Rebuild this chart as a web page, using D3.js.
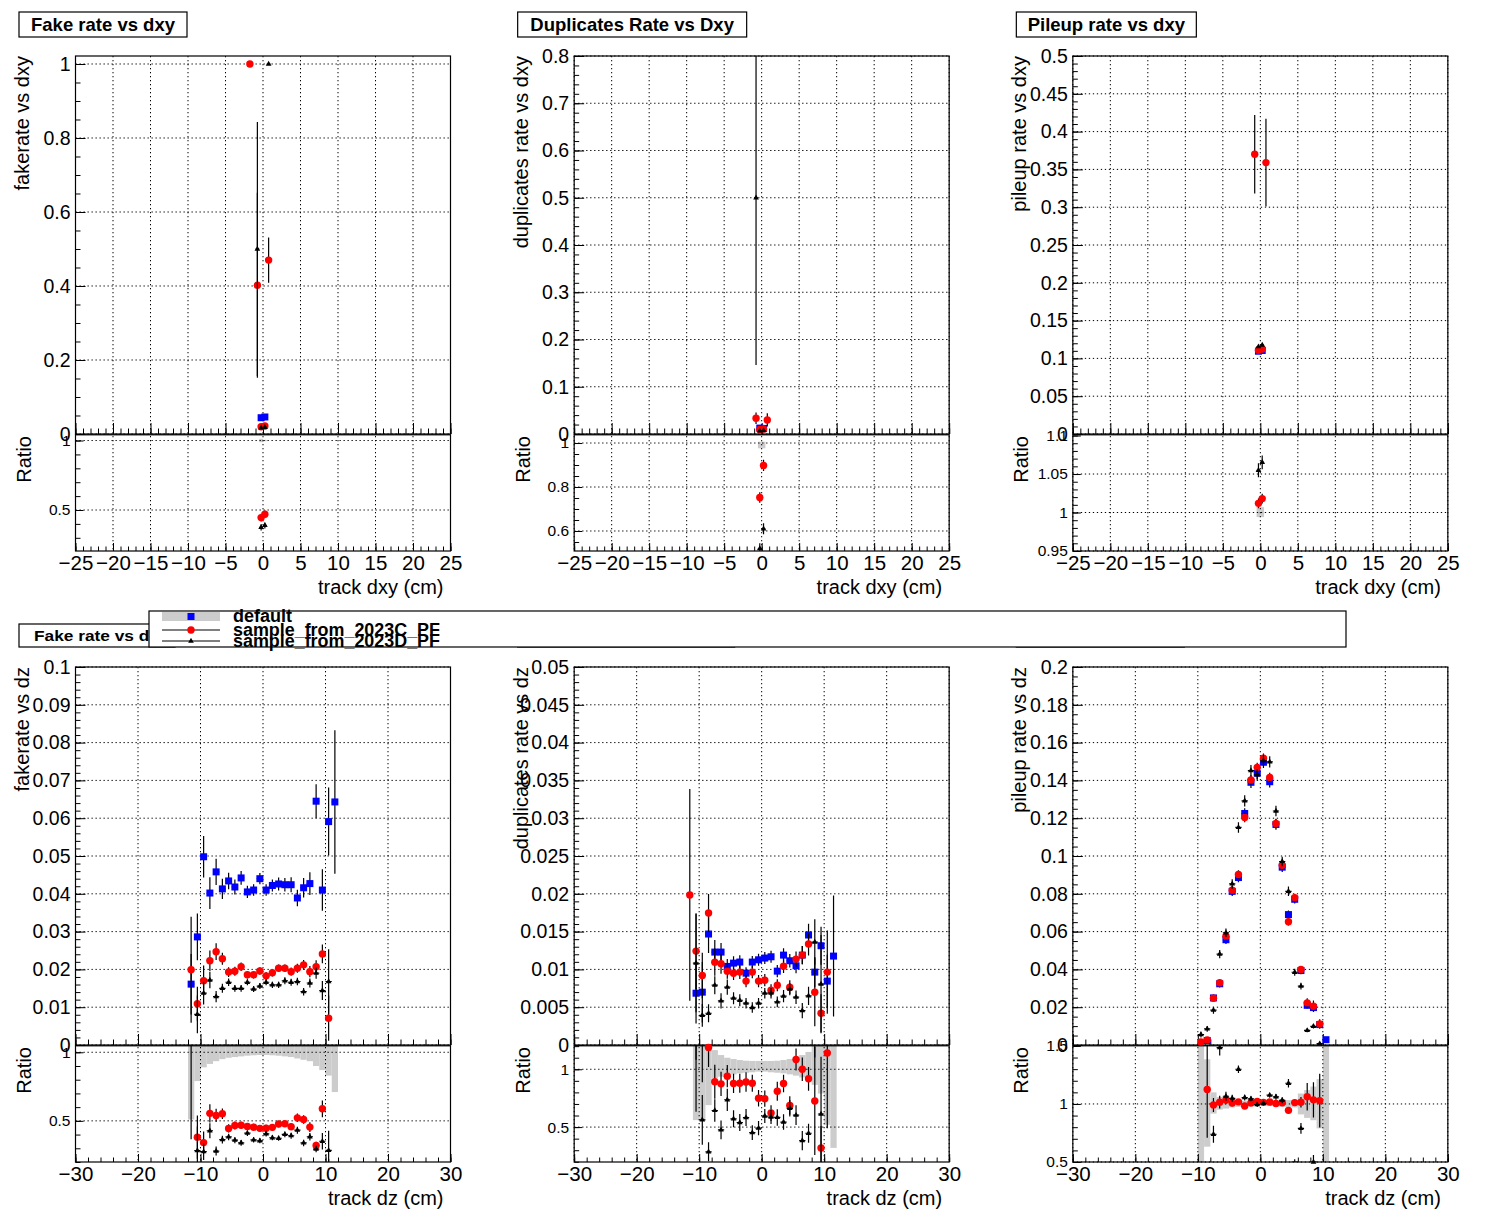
<!DOCTYPE html>
<html>
<head>
<meta charset="utf-8">
<script src="https://cdn.jsdelivr.net/npm/d3@7"></script>
<style>
body { margin: 0; background: #fff; }
svg { display: block; }
</style>
</head>
<body>
<script>
'use strict';

// ---- data ----
var seriesNames = ["default", "sample_from_2023C_PF", "sample_from_2023D_PF"];

var dxyBins = [-1.75, -0.75, -0.25, 0.25, 0.75];
var dzBins = [-11.5, -10.5, -9.5, -8.5, -7.5, -6.5, -5.5, -4.5, -3.5, -2.5, -1.5, -0.5,
              0.5, 1.5, 2.5, 3.5, 4.5, 5.5, 6.5, 7.5, 8.5, 9.5, 10.5, 11.5];

var dxyXTicks = [-25, -20, -15, -10, -5, 0, 5, 10, 15, 20, 25];
var dzXTicks = [-30, -20, -10, 0, 10, 20, 30];

var fakeDxyYTicks = [0, 0.2, 0.4, 0.6, 0.8, 1];
var dupDxyYTicks = [0, 0.1, 0.2, 0.3, 0.4, 0.5, 0.6, 0.7, 0.8];
var puDxyYTicks = [0, 0.05, 0.1, 0.15, 0.2, 0.25, 0.3, 0.35, 0.4, 0.45, 0.5];
var fakeDzYTicks = [0, 0.01, 0.02, 0.03, 0.04, 0.05, 0.06, 0.07, 0.08, 0.09, 0.1];
var dupDzYTicks = [0, 0.005, 0.01, 0.015, 0.02, 0.025, 0.03, 0.035, 0.04, 0.045, 0.05];
var puDzYTicks = [0, 0.02, 0.04, 0.06, 0.08, 0.1, 0.12, 0.14, 0.16, 0.18, 0.2];

var fakeDxyRTicks = [0.5, 1];
var dupDxyRTicks = [0.6, 0.8, 1];
var puDxyRTicks = [0.95, 1, 1.05, 1.1];
var fakeDzRTicks = [0.5, 1];
var dupDzRTicks = [0.5, 1];
var puDzRTicks = [0.5, 1, 1.5];

// fake rate vs dxy
var fakeDxyDefault = [null, null, 0.044, 0.046, null];
var fakeDxyDefaultErr = [0, 0, 0.0015, 0.0015, 0];
var fakeDxyC = [1.0, 0.402, 0.0196, 0.0216, 0.47];
var fakeDxyCErr = [0, 0.25, 0.0012, 0.0012, 0.061];
var fakeDxyD = [null, 0.5, 0.0165, 0.0179, 1.0];
var fakeDxyDErr = [0, 0.343, 0.001, 0.001, 0];
var fakeDxyBandLo = [null, null, 0.012, 0.005, null];
var fakeDxyBandHi = [null, null, 0.012, 0.005, null];

// duplicates rate vs dxy
var dupDxyDefault = [null, null, 0.0125, 0.0118, null];
var dupDxyDefaultErr = [0, 0, 0.0003, 0.0003, 0];
var dupDxyC = [null, 0.0333, 0.0094, 0.0106, 0.0297];
var dupDxyCErr = [0, 0.012, 0.0003, 0.0003, 0.014];
var dupDxyD = [null, 0.5, 0.0065, 0.0072, null];
var dupDxyDErr = [0, 0.354, 0.0003, 0.0003, 0];
var dupDxyBandLo = [null, null, 0.024, 0.024, null];
var dupDxyBandHi = [null, null, 0.006, 0.006, null];

// pileup rate vs dxy
var puDxyDefault = [null, null, 0.1095, 0.1105, null];
var puDxyDefaultErr = [0, 0, 0.0006, 0.0006, 0];
var puDxyC = [null, 0.370, 0.1108, 0.1125, 0.359];
var puDxyCErr = [0, 0.052, 0.0007, 0.0007, 0.058];
var puDxyD = [null, null, 0.1155, 0.1177, null];
var puDxyDErr = [0, 0, 0.001, 0.001, 0];
var puDxyBandLo = [null, null, 0.006, 0.006, null];
var puDxyBandHi = [null, null, 0.007, 0.007, null];

// fake rate vs dz
var fakeDzDefault = [0.0161, 0.0286, 0.0498, 0.0402, 0.0458, 0.0413, 0.0434, 0.0418, 0.0442, 0.0405, 0.0410, 0.0440,
                     0.0410, 0.0422, 0.0426, 0.0424, 0.0424, 0.0389, 0.0416, 0.0427, 0.0645, 0.0410, 0.0591, 0.0643];
var fakeDzDefaultErr = [0.008, 0.0062, 0.0055, 0.0042, 0.0035, 0.0027, 0.0022, 0.002, 0.0018, 0.0016, 0.0015, 0.0015,
                        0.0015, 0.0016, 0.0017, 0.0018, 0.002, 0.0022, 0.0026, 0.003, 0.0045, 0.0055, 0.009, 0.019];
var fakeDzC = [0.0199, 0.0109, 0.0170, 0.0223, 0.0247, 0.0228, 0.0193, 0.0195, 0.0207, 0.0186, 0.0186, 0.0196,
               0.0183, 0.0191, 0.0203, 0.0203, 0.0194, 0.0203, 0.0212, 0.0194, 0.0207, 0.0241, 0.0071, null];
var fakeDzCErr = [0.014, 0.0045, 0.004, 0.0027, 0.0022, 0.0016, 0.0013, 0.0012, 0.0011, 0.001, 0.001, 0.001,
                  0.001, 0.001, 0.001, 0.001, 0.0011, 0.0012, 0.0013, 0.0015, 0.0017, 0.0025, 0.006, 0];
var fakeDzD = [null, 0.0081, 0.0137, 0.0172, 0.0128, 0.0150, 0.0166, 0.0150, 0.0150, 0.0166, 0.0148, 0.0156,
               0.0166, 0.0159, 0.0159, 0.0170, 0.0166, 0.0168, 0.0141, 0.0164, 0.0190, 0.0144, 0.0168, null];
var fakeDzDErr = [0, 0.005, 0.003, 0.0022, 0.0015, 0.0012, 0.001, 0.0009, 0.0009, 0.0008, 0.0008, 0.0008,
                  0.0008, 0.0008, 0.0008, 0.0009, 0.0009, 0.001, 0.001, 0.0012, 0.0015, 0.0025, 0.0085, 0];
var fakeDzBandLo = [0.49, 0.21, 0.11, 0.085, 0.065, 0.05, 0.04, 0.035, 0.03, 0.025, 0.022, 0.02,
                    0.02, 0.022, 0.025, 0.03, 0.035, 0.045, 0.055, 0.065, 0.1, 0.13, 0.17, 0.29];
var fakeDzBandHi = [0.1, 0.1, 0.1, 0.1, 0.1, 0.1, 0.1, 0.1, 0.1, 0.1, 0.1, 0.1,
                    0.1, 0.1, 0.1, 0.1, 0.1, 0.1, 0.1, 0.1, 0.1, 0.1, 0.1, 0.1];

// duplicates rate vs dz
var dupDzDefault = [null, 0.00685, 0.00699, 0.01468, 0.01229, 0.01229, 0.01039, 0.01083, 0.01097, 0.0095, 0.01097, 0.01127,
                    0.0115, 0.01167, 0.00977, 0.01189, 0.01114, 0.01048, 0.01189, 0.01455, 0.00964, 0.01313, 0.00845, 0.01176];
var dupDzDefaultErr = [0, 0.004, 0.004, 0.0025, 0.0016, 0.0012, 0.001, 0.0009, 0.0009, 0.0008, 0.0008, 0.0008,
                       0.0008, 0.0008, 0.0008, 0.0009, 0.0009, 0.001, 0.0012, 0.0015, 0.002, 0.0025, 0.0035, 0.008];
var dupDzC = [0.01985, 0.01242, 0.0092, 0.01746, 0.01096, 0.01074, 0.00977, 0.0095, 0.00964, 0.00845, 0.00964, 0.00845,
              0.00858, 0.00725, 0.00791, 0.01043, 0.00765, 0.01136, 0.01189, 0.01335, 0.00699, 0.0042, 0.00964, null];
var dupDzCErr = [0.014, 0.005, 0.003, 0.0025, 0.0018, 0.0013, 0.001, 0.0009, 0.0009, 0.0008, 0.0008, 0.0008,
                 0.0008, 0.0008, 0.0008, 0.0009, 0.0009, 0.001, 0.0012, 0.0015, 0.0045, 0.0025, 0.0055, 0];
var dupDzD = [null, 0.01083, 0.00393, 0.0042, 0.00791, 0.00584, 0.00765, 0.00619, 0.00592, 0.00553, 0.00495, 0.00553,
              0.00685, 0.00685, 0.0057, 0.00646, 0.00738, 0.00632, 0.00455, 0.0065, 0.01362, 0.00805, null, null];
var dupDzDErr = [0, 0.0065, 0.0015, 0.0012, 0.0012, 0.001, 0.001, 0.0008, 0.0008, 0.0007, 0.0007, 0.0007,
                 0.0007, 0.0007, 0.0007, 0.0008, 0.0008, 0.0009, 0.001, 0.0012, 0.003, 0.0065, 0, 0];
var dupDzBandLo = [null, 0.44, 0.44, 0.31, 0.078, 0.064, 0.05, 0.044, 0.035, 0.03, 0.026, 0.02,
                   0.02, 0.026, 0.03, 0.035, 0.044, 0.055, 0.07, 0.078, 0.135, 0.21, 0.48, 0.68];
var dupDzBandHi = [null, 0.3, 0.3, 0.3, 0.166, 0.123, 0.1, 0.089, 0.08, 0.074, 0.072, 0.072,
                   0.072, 0.072, 0.074, 0.08, 0.089, 0.1, 0.123, 0.15, 0.3, 0.3, 0.3, 0.3];

// pileup rate vs dz
var puDzDefault = [null, null, null, 0.0024, 0.0249, 0.0324, 0.0557, 0.0813, 0.0886, 0.1225, 0.139, 0.1438,
                   0.1496, 0.1393, 0.1167, 0.0941, 0.069, 0.0771, 0.0394, 0.021, 0.0198, 0.0108, 0.0028, null];
var puDzDefaultErr = [0, 0, 0, 0.001, 0.0018, 0.002, 0.0022, 0.0025, 0.0025, 0.0028, 0.003, 0.003,
                      0.003, 0.003, 0.0028, 0.0025, 0.0022, 0.0022, 0.002, 0.0017, 0.0017, 0.0012, 0.001, 0];
var puDzC = [null, null, 0.0016, 0.0027, 0.0247, 0.0329, 0.0576, 0.0819, 0.0902, 0.1204, 0.1402, 0.1469,
             0.1517, 0.1416, 0.1172, 0.0951, 0.0652, 0.078, 0.04, 0.0223, 0.0205, 0.0111, null, null];
var puDzCErr = [0, 0, 0.0008, 0.001, 0.0015, 0.0018, 0.002, 0.0022, 0.0022, 0.0025, 0.0025, 0.0025,
                0.0025, 0.0025, 0.0025, 0.0022, 0.002, 0.002, 0.0018, 0.0025, 0.003, 0.0025, 0, 0];
var puDzD = [null, null, 0.0055, 0.0085, 0.0184, 0.0481, 0.0594, 0.0852, 0.1151, 0.1292, 0.1452, 0.1429,
             0.1505, 0.1498, 0.1238, 0.0971, 0.0813, 0.0385, 0.0311, 0.0077, 0.0099, 0.0007, null, null];
var puDzDErr = [0, 0, 0.0015, 0.0015, 0.0018, 0.0022, 0.0022, 0.0025, 0.0028, 0.003, 0.003, 0.003,
                0.003, 0.003, 0.0028, 0.0025, 0.0025, 0.0018, 0.0018, 0.001, 0.0012, 0.0008, 0, 0];
var puDzBandLo = [null, null, 0.6, 0.368, 0.083, 0.049, 0.04, 0.03, 0.025, 0.02, 0.018, 0.015,
                  0.015, 0.018, 0.02, 0.025, 0.028, 0.03, 0.09, 0.12, 0.14, 0.21, 0.6, null];
var puDzBandHi = [null, null, 0.6, 0.385, 0.1, 0.06, 0.045, 0.035, 0.03, 0.028, 0.028, 0.028,
                  0.028, 0.028, 0.028, 0.03, 0.033, 0.035, 0.09, 0.12, 0.15, 0.214, 0.6, null];

// ---- drawing ----
var W = 1496, H = 1222;
var FONT = '"Liberation Sans", Arial, Helvetica, sans-serif';
var fmt = d3.format("~g");

var svg = d3.select("body").append("svg")
  .attr("width", W).attr("height", H)
  .attr("font-family", FONT);
svg.append("rect").attr("width", W).attr("height", H).attr("fill", "#fff");

var panels = [
  { col: 0, row: 0, title: "Fake rate vs dxy", boxW: 168, titleLen: null, ytitle: "fakerate vs dxy", xtitle: "track dxy (cm)",
    bins: dxyBins, binW: 0.5, xDomain: [-25, 25], xTicks: dxyXTicks, xMinor: 50,
    yMax: 1.0216, yTicks: fakeDxyYTicks, yMinor: 20, rDomain: [0.205, 1.047], rTicks: fakeDxyRTicks, rMinor: 10,
    def: fakeDxyDefault, defErr: fakeDxyDefaultErr, c: fakeDxyC, cErr: fakeDxyCErr, d: fakeDxyD, dErr: fakeDxyDErr,
    bandLo: fakeDxyBandLo, bandHi: fakeDxyBandHi },
  { col: 1, row: 0, title: "Duplicates Rate vs Dxy", boxW: 229, titleLen: null, ytitle: "duplicates rate vs dxy", xtitle: "track dxy (cm)",
    bins: dxyBins, binW: 0.5, xDomain: [-25, 25], xTicks: dxyXTicks, xMinor: 50,
    yMax: 0.8, yTicks: dupDxyYTicks, yMinor: 40, rDomain: [0.509, 1.041], rTicks: dupDxyRTicks, rMinor: 10,
    def: dupDxyDefault, defErr: dupDxyDefaultErr, c: dupDxyC, cErr: dupDxyCErr, d: dupDxyD, dErr: dupDxyDErr,
    bandLo: dupDxyBandLo, bandHi: dupDxyBandHi },
  { col: 2, row: 0, title: "Pileup rate vs dxy", boxW: 180, titleLen: null, ytitle: "pileup rate vs dxy", xtitle: "track dxy (cm)",
    bins: dxyBins, binW: 0.5, xDomain: [-25, 25], xTicks: dxyXTicks, xMinor: 50,
    yMax: 0.5, yTicks: puDxyYTicks, yMinor: 50, rDomain: [0.95, 1.102], rTicks: puDxyRTicks, rMinor: 15,
    def: puDxyDefault, defErr: puDxyDefaultErr, c: puDxyC, cErr: puDxyCErr, d: puDxyD, dErr: puDxyDErr,
    bandLo: puDxyBandLo, bandHi: puDxyBandHi },
  { col: 0, row: 1, title: "Fake rate vs dz", boxW: 156, titleLen: 124, ytitle: "fakerate vs dz", xtitle: "track dz (cm)",
    bins: dzBins, binW: 1, xDomain: [-30, 30], xTicks: dzXTicks, xMinor: 30,
    yMax: 0.1, yTicks: fakeDzYTicks, yMinor: 50, rDomain: [0.2, 1.053], rTicks: fakeDzRTicks, rMinor: 10,
    def: fakeDzDefault, defErr: fakeDzDefaultErr, c: fakeDzC, cErr: fakeDzCErr, d: fakeDzD, dErr: fakeDzDErr,
    bandLo: fakeDzBandLo, bandHi: fakeDzBandHi },
  { col: 1, row: 1, title: "Duplicates Rate vs Dz", boxW: 217, titleLen: 185, ytitle: "duplicates rate vs dz", xtitle: "track dz (cm)",
    bins: dzBins, binW: 1, xDomain: [-30, 30], xTicks: dzXTicks, xMinor: 30,
    yMax: 0.05, yTicks: dupDzYTicks, yMinor: 50, rDomain: [0.198, 1.21], rTicks: dupDzRTicks, rMinor: 10,
    def: dupDzDefault, defErr: dupDzDefaultErr, c: dupDzC, cErr: dupDzCErr, d: dupDzD, dErr: dupDzDErr,
    bandLo: dupDzBandLo, bandHi: dupDzBandHi },
  { col: 2, row: 1, title: "Pileup rate vs dz", boxW: 168, titleLen: 138, ytitle: "pileup rate vs dz", xtitle: "track dz (cm)",
    bins: dzBins, binW: 1, xDomain: [-30, 30], xTicks: dzXTicks, xMinor: 30,
    yMax: 0.2, yTicks: puDzYTicks, yMinor: 40, rDomain: [0.5, 1.508], rTicks: puDzRTicks, rMinor: 10,
    def: puDzDefault, defErr: puDzDefaultErr, c: puDzC, cErr: puDzCErr, d: puDzD, dErr: puDzDErr,
    bandLo: puDzBandLo, bandHi: puDzBandHi }
];

function styleAxis(sel, size) {
  sel.select(".domain").remove();
  sel.attr("font-family", FONT).attr("font-size", size);
  sel.selectAll("text").attr("fill", "#000");
  sel.selectAll("line").attr("stroke", "#000");
}

function drawMarker(sel, kind) {
  if (kind === "square") {
    sel.append("rect").attr("x", -3.5).attr("y", -3.5).attr("width", 7).attr("height", 7).attr("fill", "#0000ff");
  } else if (kind === "circle") {
    sel.append("circle").attr("r", 3.7).attr("fill", "#ff0000");
  } else {
    sel.append("path").attr("d", d3.symbol().type(d3.symbolTriangle).size(14)()).attr("fill", "#000");
  }
}

function drawSeries(g, pts, x, ys, kind, binW, clipId, dom) {
  var eg = g.append("g").attr("clip-path", "url(#" + clipId + ")");
  eg.selectAll("line.v").data(pts.filter(function(d){ return d.e > 0; })).join("line")
    .attr("class", "v")
    .attr("x1", function(d){ return x(d.c); }).attr("x2", function(d){ return x(d.c); })
    .attr("y1", function(d){ return ys(d.v - d.e); }).attr("y2", function(d){ return ys(d.v + d.e); })
    .attr("stroke", "#000").attr("stroke-width", 1.2);
  eg.selectAll("line.h").data(pts).join("line")
    .attr("class", "h")
    .attr("x1", function(d){ return x(d.c - binW / 2); }).attr("x2", function(d){ return x(d.c + binW / 2); })
    .attr("y1", function(d){ return ys(d.v); }).attr("y2", function(d){ return ys(d.v); })
    .attr("stroke", "#000").attr("stroke-width", 1.2);
  var inside = pts.filter(function(d){ return d.v >= dom[0] && d.v <= dom[1]; });
  g.append("g").selectAll("g").data(inside).join("g")
    .attr("transform", function(d){ return "translate(" + x(d.c) + "," + ys(d.v) + ")"; })
    .each(function(){ drawMarker(d3.select(this), kind); });
}

function points(bins, vals, errs) {
  var out = [];
  bins.forEach(function(c, k){
    if (vals[k] != null) out.push({ c: c, v: vals[k], e: errs[k] });
  });
  return out;
}

function ratioPoints(bins, vals, errs, ref) {
  var out = [];
  bins.forEach(function(c, k){
    if (vals[k] != null && ref[k] != null && ref[k] > 0) out.push({ c: c, v: vals[k] / ref[k], e: errs[k] / ref[k] });
  });
  return out;
}

function drawPanel(p, i) {
  var ox = p.col * W / 3, oy = p.row * H / 2;
  var x0 = ox + 75.5, x1 = ox + 450.5, yT = oy + 56, yM = oy + 434, yB = oy + 551;
  var x = d3.scaleLinear().domain(p.xDomain).range([x0, x1]);
  var y = d3.scaleLinear().domain([0, p.yMax]).range([yM, yT]);
  var r = d3.scaleLinear().domain(p.rDomain).range([yB, yM]);
  var g = svg.append("g");

  var defs = g.append("defs");
  defs.append("clipPath").attr("id", "cm" + i).append("rect")
    .attr("x", x0).attr("y", yT).attr("width", x1 - x0).attr("height", yM - yT);
  defs.append("clipPath").attr("id", "cr" + i).append("rect")
    .attr("x", x0).attr("y", yM).attr("width", x1 - x0).attr("height", yB - yM);

  // uncertainty band of the reference in the ratio pad
  var band = [];
  p.bins.forEach(function(c, k){ if (p.bandLo[k] != null) band.push({ c: c, lo: p.bandLo[k], hi: p.bandHi[k] }); });
  g.append("g").attr("clip-path", "url(#cr" + i + ")").selectAll("rect").data(band).join("rect")
    .attr("x", function(d){ return x(d.c - p.binW / 2); })
    .attr("width", function(d){ return x(d.c + p.binW / 2) - x(d.c - p.binW / 2); })
    .attr("y", function(d){ return r(1 + d.hi); })
    .attr("height", function(d){ return r(1 - d.lo) - r(1 + d.hi); })
    .attr("fill", "#cccccc");

  // dotted grid
  var grid = g.append("g").attr("stroke", "#000").attr("stroke-width", 1).attr("stroke-dasharray", "1.3,2.7");
  grid.selectAll("line.gx").data(p.xTicks).join("line").attr("class", "gx")
    .attr("x1", function(d){ return x(d); }).attr("x2", function(d){ return x(d); })
    .attr("y1", yT).attr("y2", yB);
  grid.selectAll("line.gy").data(p.yTicks).join("line").attr("class", "gy")
    .attr("x1", x0).attr("x2", x1)
    .attr("y1", function(d){ return y(d); }).attr("y2", function(d){ return y(d); });
  grid.selectAll("line.gr").data(p.rTicks.filter(function(t){ return t < p.rDomain[1] - 0.01; })).join("line").attr("class", "gr")
    .attr("x1", x0).attr("x2", x1)
    .attr("y1", function(d){ return r(d); }).attr("y2", function(d){ return r(d); });

  // frames
  g.append("rect").attr("x", x0).attr("y", yT).attr("width", x1 - x0).attr("height", yM - yT)
    .attr("fill", "none").attr("stroke", "#000").attr("stroke-width", 1.2);
  g.append("rect").attr("x", x0).attr("y", yM + 0.8).attr("width", x1 - x0).attr("height", yB - yM - 0.8)
    .attr("fill", "none").attr("stroke", "#000").attr("stroke-width", 1.2);

  // main y axis
  g.append("g").attr("transform", "translate(" + x0 + ",0)")
    .call(d3.axisLeft(y).tickValues(y.ticks(p.yMinor)).tickSize(-5).tickFormat(""))
    .call(styleAxis, 19.5);
  g.append("g").attr("transform", "translate(" + x0 + ",0)")
    .call(d3.axisLeft(y).tickValues(p.yTicks).tickSize(-10).tickPadding(5).tickFormat(fmt))
    .call(styleAxis, 19.5);

  // ratio y axis
  g.append("g").attr("transform", "translate(" + x0 + ",0)")
    .call(d3.axisLeft(r).tickValues(r.ticks(p.rMinor)).tickSize(-5).tickFormat(""))
    .call(styleAxis, 15.5);
  g.append("g").attr("transform", "translate(" + x0 + ",0)")
    .call(d3.axisLeft(r).tickValues(p.rTicks).tickSize(-8).tickPadding(5).tickFormat(fmt))
    .call(styleAxis, 15.5);

  // x ticks on main pad (no labels)
  g.append("g").attr("transform", "translate(0," + yM + ")")
    .call(d3.axisBottom(x).tickValues(x.ticks(p.xMinor)).tickSize(-5.5).tickFormat(""))
    .call(styleAxis, 20.5);
  g.append("g").attr("transform", "translate(0," + yM + ")")
    .call(d3.axisBottom(x).tickValues(p.xTicks).tickSize(-11).tickFormat(""))
    .call(styleAxis, 20.5);

  // x axis on ratio pad
  g.append("g").attr("transform", "translate(0," + yB + ")")
    .call(d3.axisBottom(x).tickValues(x.ticks(p.xMinor)).tickSize(-4.5).tickFormat(""))
    .call(styleAxis, 20.5);
  g.append("g").attr("transform", "translate(0," + yB + ")")
    .call(d3.axisBottom(x).tickValues(p.xTicks).tickSize(-8).tickPadding(4).tickFormat(fmt))
    .call(styleAxis, 20.5);

  // axis titles
  g.append("text").attr("transform", "translate(" + (ox + 29) + "," + yT + ") rotate(-90)")
    .attr("text-anchor", "end").attr("font-size", 20).text(p.ytitle);
  g.append("text").attr("transform", "translate(" + (ox + 31) + "," + (yM + 2) + ") rotate(-90)")
    .attr("text-anchor", "end").attr("font-size", 20).text("Ratio");
  g.append("text").attr("x", x1 - 7).attr("y", oy + 594)
    .attr("text-anchor", "end").attr("font-size", 20).text(p.xtitle);

  // data points
  var dom = [0, p.yMax];
  drawSeries(g, points(p.bins, p.def, p.defErr), x, y, "square", p.binW, "cm" + i, dom);
  drawSeries(g, points(p.bins, p.c, p.cErr), x, y, "circle", p.binW, "cm" + i, dom);
  drawSeries(g, points(p.bins, p.d, p.dErr), x, y, "triangle", p.binW, "cm" + i, dom);

  drawSeries(g, ratioPoints(p.bins, p.c, p.cErr, p.def), x, r, "circle", p.binW, "cr" + i, p.rDomain);
  drawSeries(g, ratioPoints(p.bins, p.d, p.dErr, p.def), x, r, "triangle", p.binW, "cr" + i, p.rDomain);

  // title box
  var top = p.row === 0;
  var bx = ox + 19, by = oy + (top ? 12 : 13), bh = top ? 25 : 23;
  g.append("rect").attr("x", bx).attr("y", by).attr("width", p.boxW).attr("height", bh)
    .attr("fill", "#fff").attr("stroke", "#000").attr("stroke-width", 1.2);
  var t = g.append("text").attr("font-weight", "bold").text(p.title);
  if (top) {
    t.attr("x", bx + p.boxW / 2).attr("y", by + 19).attr("text-anchor", "middle").attr("font-size", 18.5);
  } else {
    t.attr("x", bx + 15).attr("y", by + 17).attr("font-size", 15)
      .attr("textLength", p.titleLen).attr("lengthAdjust", "spacingAndGlyphs");
  }
}

panels.forEach(drawPanel);

// legend
var leg = svg.append("g");
leg.append("rect").attr("x", 149).attr("y", 611).attr("width", 1197).attr("height", 36)
  .attr("fill", "#fff").attr("stroke", "#000").attr("stroke-width", 1.2);
var rowsY = [616.5, 630, 641];
leg.append("rect").attr("x", 162).attr("y", 612).attr("width", 58).attr("height", 9).attr("fill", "#cccccc");
leg.append("line").attr("x1", 162).attr("x2", 220).attr("y1", rowsY[1]).attr("y2", rowsY[1]).attr("stroke", "#000").attr("stroke-width", 1.1);
leg.append("line").attr("x1", 162).attr("x2", 220).attr("y1", rowsY[2]).attr("y2", rowsY[2]).attr("stroke", "#000").attr("stroke-width", 1.1);
["square", "circle", "triangle"].forEach(function(kind, k){
  drawMarker(leg.append("g").attr("transform", "translate(191," + rowsY[k] + ")"), kind);
});
leg.selectAll("text").data(seriesNames).join("text")
  .attr("x", 233).attr("y", function(d, k){ return rowsY[k] + 5.5; })
  .attr("font-size", 18).attr("font-weight", "bold")
  .attr("textLength", function(d, k){ return k === 0 ? null : 207; })
  .attr("lengthAdjust", "spacingAndGlyphs")
  .text(function(d){ return d; });
</script>
</body>
</html>
